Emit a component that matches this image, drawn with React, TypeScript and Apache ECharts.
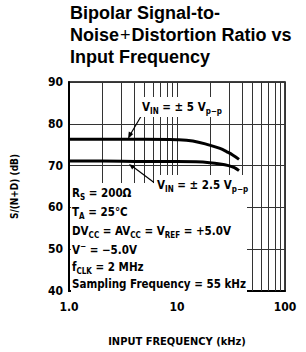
import React, { useEffect, useRef } from "react";
import * as echarts from "echarts";

// ---- data ----
const freq5 = [1, 2, 5, 10, 14, 20, 25, 29, 33, 37.5];
const snr5 = [76.3, 76.3, 76.3, 76.2, 75.9, 74.9, 74.1, 73.3, 72.5, 71.5];
const freq25 = [1, 2, 5, 10, 15, 20, 25, 30, 34, 37.5];
const snr25 = [71.1, 71.1, 71.0, 71.0, 70.9, 70.7, 70.4, 70.0, 69.5, 68.8];
const minorGrid = [2, 3, 4, 5, 6, 7, 8, 9, 20, 30, 40, 50, 60, 70, 80, 90];
const xTickLabels: Record<number, string> = { 1: "1.0", 10: "10", 100: "100" };
const yMin = 40;
const yMax = 90;
const yInterval = 10;

const F = '"DejaVu Sans Condensed", "DejaVu Sans", sans-serif';
const TF = '"Liberation Sans", Arial, sans-serif';

const richBase = {
  n: { fontFamily: F, fontWeight: "bold", fontSize: 11.5, lineHeight: 16, fill: "#000" },
  s: { fontFamily: F, fontWeight: "bold", fontSize: 8, lineHeight: 10, verticalAlign: "bottom", fill: "#000" },
  u: { fontFamily: F, fontWeight: "bold", fontSize: 8, lineHeight: 10, verticalAlign: "top", fill: "#000" },
};

function txt(x: number, y: number, text: string, bg?: boolean) {
  return {
    type: "text",
    x,
    y,
    z: 20,
    style: {
      text,
      rich: richBase,
      fill: "#000",
      font: "bold 11.5px " + F,
      verticalAlign: "middle",
      backgroundColor: bg ? "#fff" : undefined,
      padding: bg ? [2, 3] : 0,
    },
  };
}

export default function App() {
  const ref = useRef<HTMLDivElement>(null);
  useEffect(() => {
    if (!ref.current) return;
    const chart = echarts.init(ref.current, null, { renderer: "svg" });
    const option: any = {
      animation: false,
      backgroundColor: "#fff",
      title: {
        left: 70,
        top: 2,
        padding: 0,
        text: "{a|Bipolar Signal-to-}\n{a|Noise}{p|+}{a|Distortion Ratio vs}\n{a|Input Frequency}",
        textStyle: {
          rich: {
            a: { fontFamily: TF, fontWeight: "bold", fontSize: 18, lineHeight: 22, color: "#000" },
            p: { fontFamily: TF, fontWeight: "normal", fontSize: 18, lineHeight: 22, color: "#000", padding: [0, 1] },
          },
        },
      },
      grid: {
        left: 69,
        right: 21,
        top: 82,
        bottom: 57,
        show: true,
        borderColor: "#000",
        borderWidth: 1.5,
      },
      xAxis: {
        type: "log",
        logBase: 10,
        min: 1,
        max: 100,
        name: "INPUT FREQUENCY (kHz)",
        nameLocation: "middle",
        nameGap: 45,
        nameTextStyle: { fontFamily: F, fontWeight: "bold", fontSize: 11, color: "#000" },
        axisLine: { show: true, lineStyle: { color: "#000", width: 2 } },
        axisTick: { show: false },
        axisLabel: {
          margin: 10,
          fontFamily: F,
          fontWeight: "bold",
          fontSize: 12,
          color: "#000",
          formatter: (v: number) => xTickLabels[Math.round(v)] ?? "",
        },
        splitLine: { show: true, lineStyle: { color: "#333", width: 1 } },
      },
      yAxis: {
        type: "value",
        min: yMin,
        max: yMax,
        interval: yInterval,
        name: "S/(N+D) (dB)",
        nameLocation: "middle",
        nameGap: 50,
        nameTextStyle: { fontFamily: F, fontWeight: "bold", fontSize: 10, color: "#000" },
        axisLine: { show: true, lineStyle: { color: "#000", width: 2 } },
        axisTick: { show: false },
        axisLabel: { margin: 6, fontFamily: F, fontWeight: "bold", fontSize: 12, color: "#000" },
        splitLine: { show: true, lineStyle: { color: "#333", width: 1 } },
      },
      series: [
        {
          type: "line",
          data: freq5.map((f, i) => [f, snr5[i]]),
          smooth: 0.4,
          showSymbol: false,
          z: 5,
          lineStyle: { color: "#000", width: 3 },
        },
        {
          type: "line",
          data: freq25.map((f, i) => [f, snr25[i]]),
          smooth: 0.4,
          showSymbol: false,
          z: 5,
          lineStyle: { color: "#000", width: 3 },
        },
      ],
    };
    chart.setOption(option);

    // vertical minor grid lines, positioned through the chart's own log scale
    const yTop = chart.convertToPixel({ yAxisIndex: 0 }, yMax) as number;
    const yBot = chart.convertToPixel({ yAxisIndex: 0 }, yMin) as number;
    const gridLines = minorGrid.map((v) => {
      const px = Math.round(chart.convertToPixel({ xAxisIndex: 0 }, v) as number) + 0.5;
      return {
        type: "line",
        z: 1,
        silent: true,
        shape: { x1: px, y1: yTop, x2: px, y2: yBot },
        style: { stroke: "#333", lineWidth: 1 },
      };
    });

    chart.setOption({
      graphic: [
        ...gridLines,
        { type: "rect", z: 10, shape: { x: 71, y: 183, width: 176, height: 110.5 }, style: { fill: "#fff" } },
        txt(139, 107, "{n|V}{s|IN}{n| = ± 5 V}{s|p−p}", true),
        txt(154, 185, "{n|V}{s|IN}{n| = ± 2.5 V}{s|p−p}", true),
        { type: "line", z: 15, shape: { x1: 143, y1: 113, x2: 130, y2: 135 }, style: { stroke: "#000", lineWidth: 1.2 } },
        { type: "polygon", z: 15, shape: { points: [[128, 139], [133.2, 134.1], [128.8, 131.6]] }, style: { fill: "#000" } },
        { type: "line", z: 15, shape: { x1: 156, y1: 184, x2: 132, y2: 166 }, style: { stroke: "#000", lineWidth: 1.2 } },
        { type: "polygon", z: 15, shape: { points: [[129, 164], [135, 166.1], [132.2, 169.5]] }, style: { fill: "#000" } },
        txt(72, 193, "{n|R}{s|S}{n| = 200Ω}"),
        txt(72, 212, "{n|T}{s|A}{n| = 25°C}"),
        txt(72, 231, "{n|DV}{s|CC}{n| = AV}{s|CC}{n| = V}{s|REF}{n| = +5.0V}"),
        txt(72, 250, "{n|V}{u|−}{n| = −5.0V}"),
        txt(72, 267, "{n|f}{s|CLK}{n| = 2 MHz}"),
        txt(72, 284, "{n|Sampling Frequency = 55 kHz}"),
      ],
    });
    return () => chart.dispose();
  }, []);
  return (
    <div
      ref={ref}
      style={{ position: "fixed", left: 0, top: 0, width: 306, height: 352, background: "#fff" }}
    />
  );
}
